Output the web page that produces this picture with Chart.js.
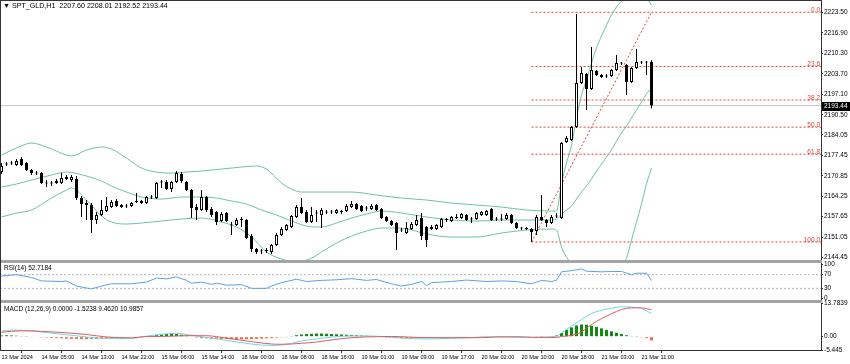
<!DOCTYPE html>
<html>
<head>
<meta charset="utf-8">
<script src="https://cdn.jsdelivr.net/npm/chart.js@4.4.1/dist/chart.umd.min.js"></script>
<style>
  body { margin: 0; background: #fff; }
  #wrap { position: relative; width: 850px; height: 364px; overflow: hidden; background: #fff; font-family: 'Liberation Sans', Arial, sans-serif; }
  canvas { position: absolute; left: 0; }
  .txt { position: absolute; font-size: 6.5px; line-height: 8px; color: #000; white-space: pre; }
  .sep { position: absolute; left: 0; width: 822px; height: 3px; background: #a4a4a4; }
  .ln { position: absolute; background: #333; }
</style>
</head>
<body>
<div id="wrap">
  <canvas id="cMain" width="850" height="264" style="top:0"></canvas>
  <canvas id="cRsi" width="850" height="45" style="top:259px"></canvas>
  <canvas id="cMacd" width="850" height="65" style="top:299px"></canvas>
  <div class="sep" style="top:260px"></div>
  <div class="sep" style="top:300px"></div>
  <div class="ln" style="left:0;top:0;width:1px;height:351px"></div>
  <div class="ln" style="left:0;top:0;width:822px;height:1px"></div>
  <div class="txt" style="left:3px;top:2px;font-size:7.1px">▼ SPT_GLD,H1  2207.60 2208.01 2192.52 2193.44</div>
  <div class="txt" style="left:4px;top:264px">RSI(14) 52.7184</div>
  <div class="txt" style="left:4px;top:305px">MACD (12,26,9) 0.0000 -1.5238 9.4620 10.9857</div>
</div>
<script>
// H1 candles, 13 Mar 21:00 -> 21 Mar 13:00
const opens = [2172.04,2174.46,2174.78,2174.30,2176.23,2174.94,2172.69,2171.88,2171.72,2168.50,
  2168.34,2168.50,2168.50,2169.79,2169.46,2169.79,2163.66,2162.05,2161.41,2156.58,
  2158.19,2159.48,2160.76,2162.70,2161.41,2161.09,2161.09,2162.38,2162.70,2162.05,
  2163.99,2163.66,2168.66,2168.82,2166.56,2168.82,2171.40,2168.82,2166.24,2160.76,
  2159.80,2163.99,2160.12,2159.15,2156.25,2158.83,2154.96,2154.96,2156.58,2156.58,
  2151.42,2147.23,2146.59,2146.59,2146.27,2148.52,2151.74,2153.35,2154.32,2157.54,
  2160.76,2159.15,2155.93,2158.67,2158.19,2159.15,2158.99,2158.83,2159.31,2159.48,
  2160.76,2161.73,2161.09,2160.28,2160.12,2161.41,2160.12,2157.54,2156.25,2155.61,
  2153.35,2152.39,2153.68,2154.96,2157.22,2154.32,2154.32,2153.68,2154.32,2156.58,
  2156.25,2157.22,2157.22,2158.19,2156.90,2156.90,2158.19,2158.19,2160.12,2156.90,
  2156.74,2156.90,2158.19,2155.61,2153.84,2154.00,2153.68,2153.03,2157.54,2156.58,
  2155.61,2157.70,2157.22,2181.71,2182.35,2186.54,2200.72,2203.62,2198.78,2204.58,
  2203.29,2202.81,2202.97,2204.91,2207.00,2206.52,2201.04,2205.55,2207.48,2207.32,
  2207.60];
const highs = [2174.94,2175.26,2175.59,2176.23,2176.87,2175.26,2173.01,2172.36,2172.04,2169.46,
  2169.14,2169.79,2171.72,2171.07,2171.07,2170.75,2164.31,2163.02,2162.05,2159.15,
  2163.02,2163.99,2163.02,2163.34,2161.73,2161.73,2162.38,2165.28,2163.02,2164.31,
  2164.63,2168.82,2169.46,2169.46,2169.14,2172.36,2172.04,2169.14,2166.56,2161.73,
  2166.24,2164.31,2160.76,2159.48,2159.15,2159.15,2155.93,2157.22,2157.54,2156.90,
  2152.07,2147.55,2147.23,2147.55,2148.84,2152.39,2154.32,2155.29,2158.19,2161.41,
  2163.66,2159.80,2160.76,2159.80,2160.44,2159.80,2159.80,2160.12,2159.80,2161.73,
  2162.70,2162.05,2161.41,2161.09,2161.73,2161.73,2160.44,2157.86,2156.58,2155.93,
  2154.00,2155.93,2155.93,2158.19,2158.83,2154.64,2154.96,2155.29,2157.22,2157.22,
  2157.86,2158.51,2158.83,2158.51,2157.54,2159.15,2159.48,2159.80,2160.44,2157.54,
  2158.51,2158.83,2158.51,2155.93,2154.32,2154.32,2154.00,2158.19,2164.63,2156.90,
  2158.19,2158.83,2181.71,2183.64,2186.86,2222.95,2205.87,2203.94,2212.32,2204.91,
  2203.62,2203.62,2205.23,2209.74,2207.48,2206.84,2205.87,2211.67,2207.81,2207.81,
  2208.01];
const lows = [2171.40,2173.97,2174.30,2173.97,2173.97,2172.36,2171.07,2171.07,2168.18,2167.21,
  2167.53,2168.18,2168.18,2169.46,2168.82,2163.02,2157.54,2156.58,2152.39,2155.29,
  2157.86,2159.15,2160.44,2160.76,2160.44,2160.44,2160.76,2162.05,2161.73,2161.73,
  2163.34,2163.34,2166.89,2166.24,2165.60,2168.50,2168.50,2165.92,2157.22,2156.58,
  2159.48,2159.15,2157.54,2154.96,2155.93,2155.93,2151.74,2154.64,2154.32,2150.45,
  2146.27,2145.62,2145.62,2145.94,2145.62,2148.20,2151.42,2153.03,2154.00,2157.22,
  2158.51,2155.61,2155.61,2155.93,2154.00,2158.51,2158.51,2158.51,2158.51,2159.15,
  2160.44,2159.80,2159.15,2159.48,2159.80,2159.48,2156.90,2155.93,2154.64,2146.91,
  2152.71,2152.07,2153.35,2154.64,2150.13,2147.88,2153.35,2153.35,2154.00,2155.93,
  2155.93,2156.90,2156.90,2156.25,2155.61,2156.58,2157.86,2157.86,2156.25,2156.25,
  2156.25,2156.58,2155.29,2153.68,2153.35,2153.35,2149.49,2151.74,2156.25,2154.32,
  2155.29,2157.22,2156.90,2181.39,2182.03,2186.22,2200.40,2192.02,2198.46,2202.97,
  2202.33,2202.33,2202.65,2204.58,2206.52,2196.85,2200.72,2205.23,2206.84,2203.29,
  2192.52];
const closes = [2173.97,2174.62,2174.94,2175.59,2174.30,2172.69,2171.72,2171.56,2168.50,2168.34,
  2168.50,2169.14,2170.11,2170.43,2170.43,2163.66,2161.73,2161.41,2156.58,2158.19,
  2159.80,2161.09,2162.38,2161.09,2160.76,2160.93,2162.05,2162.54,2162.05,2163.99,
  2163.83,2168.50,2168.82,2166.56,2168.82,2171.72,2169.14,2166.24,2160.44,2159.80,
  2163.99,2159.80,2158.19,2155.93,2158.51,2156.25,2154.80,2156.58,2156.74,2150.78,
  2147.23,2146.27,2146.43,2146.91,2148.52,2151.74,2153.68,2154.96,2157.86,2160.76,
  2158.83,2155.93,2158.19,2158.83,2159.80,2158.99,2159.15,2159.80,2159.15,2161.09,
  2161.73,2160.12,2159.48,2160.44,2161.09,2159.80,2157.22,2156.25,2154.96,2152.39,
  2153.19,2154.00,2155.29,2156.58,2151.42,2150.13,2153.68,2154.96,2156.90,2156.74,
  2157.54,2157.38,2158.51,2156.58,2156.74,2158.83,2159.15,2159.48,2156.58,2156.74,
  2156.90,2158.19,2155.61,2154.00,2154.00,2153.68,2152.71,2157.54,2156.58,2155.61,
  2157.54,2157.86,2181.39,2183.00,2186.54,2200.72,2203.94,2198.78,2204.91,2203.29,
  2202.65,2202.97,2204.91,2207.16,2207.16,2201.04,2205.55,2207.48,2207.32,2207.48,
  2193.44];

const timeTickBars = [0, 8, 16, 24, 32, 40, 48, 56, 64, 72, 80, 88, 96, 104, 112, 120, 128];
const timeLabels = ['13 Mar 2024', '14 Mar 05:00', '14 Mar 13:00', '14 Mar 22:00', '15 Mar 06:00',
  '15 Mar 14:00', '18 Mar 00:00', '18 Mar 08:00', '18 Mar 16:00', '19 Mar 01:00', '19 Mar 09:00',
  '19 Mar 17:00', '20 Mar 02:00', '20 Mar 10:00', '20 Mar 18:00', '21 Mar 03:00', '21 Mar 11:00'];
const priceTicks = [2223.50, 2216.90, 2210.30, 2203.70, 2197.10, 2190.50, 2184.05, 2177.45,
  2170.85, 2164.25, 2157.65, 2151.05, 2144.45];

// Bollinger bands (20, 2)
const upperBars = [0,3,6,9,13,14,17,20,22,25,28,31,34,37,40,44,48,51,53,56,58,60,65,70,75,80,85,90,95,100,
  105,110,111,112,113,114,115,116,117,118,119,120,121,122,123,124,125,126,127,128,129,130];
const upperVals = [2177.52,2179.77,2181.39,2180.10,2177.52,2177.20,2179.13,2180.10,2179.45,2176.55,
  2173.33,2172.04,2171.72,2172.04,2172.36,2173.01,2173.65,2173.97,2173.01,2168.50,
  2166.56,2165.60,2165.60,2165.60,2164.63,2163.66,2163.02,2162.05,2161.41,2160.76,
  2159.80,2159.48,2159.48,2168.50,2174.94,2180.74,2189.44,2196.85,2201.68,2207.16,
  2212.00,2215.86,2219.40,2222.63,2225.20,2227.14,2228.43,2229.39,2229.72,2229.39,
  2228.10,2225.85];
const midBars = [0,3,6,10,13,17,20,22,25,28,32,36,40,43,46,49,52,55,58,61,64,67,70,73,76,80,85,90,95,100,
  105,110,111,112,113,114,115,116,117,118,119,120,121,122,123,124,125,126,127,128,129,130];
const midVals = [2167.21,2168.18,2169.46,2171.07,2172.04,2170.75,2169.14,2167.53,2165.60,2163.99,
  2163.34,2163.99,2163.99,2163.66,2162.70,2161.73,2159.80,2158.19,2156.25,2154.64,
  2154.32,2155.61,2157.22,2158.51,2159.48,2158.83,2157.54,2156.58,2156.25,2156.58,
  2156.58,2156.58,2156.90,2158.51,2159.80,2161.09,2163.34,2165.60,2167.53,2169.79,
  2172.36,2174.62,2176.87,2179.13,2182.03,2184.61,2186.86,2189.44,2192.02,2194.60,
  2197.17,2199.11];
const lowerBars = [0,3,6,10,13,14,17,20,22,25,28,32,36,40,44,47,50,53,56,58,60,62,64,67,70,73,76,80,85,90,
  95,100,105,110,111,112,113,114,115,116,117,118,119,120,121,122,123,124,125,126,127,128,129,130];
const lowerVals = [2157.54,2158.83,2159.80,2163.66,2166.24,2166.89,2163.02,2157.86,2155.93,2155.29,
  2155.61,2156.25,2156.90,2157.22,2155.93,2154.32,2151.10,2146.27,2144.01,2143.37,
  2143.37,2144.33,2146.27,2149.16,2151.42,2153.03,2154.00,2154.00,2152.07,2151.10,
  2151.10,2152.39,2153.35,2153.68,2153.35,2147.88,2144.65,2142.08,2137.24,2132.41,
  2130.80,2130.16,2130.16,2131.44,2134.02,2136.60,2139.50,2142.08,2144.33,2150.13,
  2155.93,2161.73,2168.18,2173.33];

// Fibonacci retracement, drawn from bar 106 low to bar 130
const fibLevels = [0, 23.6, 38.2, 50, 61.8, 100];
const fibHigh = 2223.5;
const fibLow = 2149.5;
const fibFromBar = 106;
const fibToBar = 130;

// RSI(14)
const rsiBars = [0,3,6,8,12,13,15,18,20,22,26,29,31,33,35,37,38,40,42,43,45,48,50,53,54,56,59,61,64,67,
  70,73,75,78,80,82,84,85,86,90,93,97,100,103,106,108,110,111,112,114,116,117,120,122,124,126,127,129,130];
const rsiVals = [65.8,70,61.7,51.7,50,51.7,36.7,28.3,36.7,43.3,43.3,48.3,60,57.5,63.3,53.3,45,48.3,41.7,45,
  39.2,40.8,30,30,36.7,46.7,56.7,50,53.3,55,58.3,53.3,55.8,43.3,36.7,41.7,50,38.3,46.7,50,
  54.2,50,51.7,50,43.3,53.3,50,53.3,78.3,81.7,86.7,80,78.3,79.2,79.2,70,74.2,74.2,52.72];
const rsiTicks = [100, 70, 30, 0];

// MACD(12,26,9)
const macdHist = [0.5,0.6,0.5,0.4,0.3,0.1,-0.1,-0.2,
  -0.3,-0.4,-0.5,-0.6,-0.7,-0.8,-0.9,-0.9,-1.0,-1.0,-0.9,-0.9,-0.8,-0.7,-0.6,-0.5,-0.4,-0.3,-0.2,-0.1,-0.05,
  0.1,
  0.4,0.7,0.9,1.1,1.2,1.1,0.8,0.5,
  -0.2,-0.4,-0.6,-0.7,-0.8,-0.8,-0.9,-0.9,-1.0,-1.0,-1.1,-1.0,-1.0,-0.9,-0.8,-0.7,-0.6,-0.4,-0.3,
  -0.1,
  0.3,0.6,0.9,1.1,1.2,1.3,1.3,1.2,1.1,1.0,0.9,0.8,0.7,0.6,0.5,0.4,0.3,0.2,
  -0.2,-0.3,-0.4,-0.5,-0.6,-0.6,-0.6,-0.6,-0.5,-0.5,-0.4,-0.4,-0.3,-0.3,-0.2,-0.2,-0.1,-0.1,
  0.2,0.2,0.3,0.3,0.2,0.1,-0.1,-0.2,-0.2,-0.3,-0.3,-0.2,-0.2,-0.1,0.1,0.2,0.3,0.5,
  1.5,2.8,3.8,4.6,5.0,4.9,4.5,4.0,3.4,2.8,2.2,1.6,1.1,0.6,0.3,0.1,-0.3,-0.6,-1.5238];
const macdBars = [0,2,5,8,13,17,21,26,29,32,35,37,41,45,50,54,56,58,60,63,65,70,75,78,81,85,90,93,96,99,
  103,106,109,111,112,114,116,118,120,122,124,126,128,130];
const macdLine = [2.3,2.7,2.5,1.9,0.8,-0.1,-0.8,-0.7,0.2,1.0,1.4,0.9,-0.3,-1.5,-3.0,-3.6,-3.4,-2.7,-1.8,-0.9,
  -0.4,0.3,0.2,-0.3,-0.7,-0.9,-0.7,-0.5,-0.1,0.0,-0.3,-0.4,-0.1,0.2,1.6,4.3,7.0,9.5,10.8,11.6,
  12.2,12.1,11.5,9.462];
const signalLine = [1.8,2.2,2.4,2.2,1.6,0.9,-0.1,-0.5,0.1,0.1,0.3,0.4,0.4,-0.6,-2.0,-3.0,-3.1,-3.0,-2.7,-2.2,
  -1.6,-0.4,0.0,0.1,-0.1,-0.4,-0.4,-0.4,-0.4,-0.1,0.0,-0.2,-0.3,-0.3,0.1,0.5,2.0,5.0,7.4,9.4,
  11.1,11.8,11.8,10.9857];
const macdMax = 13.7839;
const macdMin = -5.445;

const xMin = -0.3, xMax = 163.9;
const FONT = "'Liberation Sans', Arial, sans-serif";

Chart.defaults.font.family = FONT;
Chart.defaults.font.size = 6.5;
Chart.defaults.color = '#000';

const pts = (bars, vals) => bars.map((b, i) => ({ x: b, y: vals[i] }));
const across = v => [{ x: xMin, y: v }, { x: xMax, y: v }];

function lineSet(data, color, extra) {
    return Object.assign({ type: 'line', data, borderColor: color, borderWidth: 1, pointRadius: 0, fill: false }, extra || {});
}

function rightAxis(min, max, tickVals, fmt) {
    return {
        position: 'right', min, max,
        afterBuildTicks: s => { s.ticks = tickVals.map(v => ({ value: v })); },
        afterFit: s => { s.width = 29; s.paddingTop = 0; s.paddingBottom = 0; },
        ticks: { autoSkip: false, padding: 1, callback: fmt, font: { size: 6.5 } },
        grid: { drawOnChartArea: false, drawTicks: true, tickLength: 2, color: '#333' },
        border: { display: true, color: '#333' }
    };
}

const hiddenX = { type: 'linear', min: xMin, max: xMax, offset: false, display: false };

const baseOpts = {
    responsive: false, animation: false, devicePixelRatio: 1, events: [],
    plugins: { legend: { display: false }, tooltip: { enabled: false } }
};

// ---- main price window ----
const idx = opens.map((_, i) => i);
const lastPrice = closes[closes.length - 1];
const fibPrice = lv => fibHigh - (fibHigh - fibLow) * lv / 100;
const fibColor = '#e0443c';

const mainSets = [
    { type: 'bar', data: idx.map(i => ({ x: i, y: [opens[i], closes[i]] })),
      backgroundColor: idx.map(i => closes[i] >= opens[i] ? '#ffffff' : '#000000'),
      borderColor: '#000', borderWidth: 1, borderSkipped: false, inflateAmount: 0,
      grouped: false, maxBarThickness: 3, minBarLength: 1, order: 0 },
    { type: 'bar', data: idx.map(i => ({ x: i, y: [lows[i], highs[i]] })),
      backgroundColor: '#000', borderWidth: 0, inflateAmount: 0,
      grouped: false, maxBarThickness: 1, order: 1 },
    lineSet(pts(upperBars, upperVals), '#6cc49b', { cubicInterpolationMode: 'monotone', order: 2 }),
    lineSet(pts(midBars, midVals), '#6cc49b', { cubicInterpolationMode: 'monotone', order: 2 }),
    lineSet(pts(lowerBars, lowerVals), '#6cc49b', { cubicInterpolationMode: 'monotone', order: 2 }),
    lineSet([{ x: fibFromBar, y: fibLow }, { x: fibToBar, y: fibHigh }], fibColor, { borderDash: [2, 2], order: 3 }),
    lineSet(across(lastPrice), '#c4c4c4', { order: 5 })
];
fibLevels.forEach(lv => {
    mainSets.push(lineSet([{ x: fibFromBar, y: fibPrice(lv) }, { x: xMax, y: fibPrice(lv) }], fibColor, { borderDash: [2, 2], order: 3 }));
});

const mainOverlay = {
    id: 'mainOverlay',
    afterDraw(chart) {
        const { ctx, chartArea } = chart;
        const y = chart.scales.y;
        ctx.save();
        ctx.font = '6.5px ' + FONT;
        ctx.fillStyle = fibColor;
        ctx.textAlign = 'right';
        ctx.textBaseline = 'bottom';
        fibLevels.forEach(lv => ctx.fillText(lv.toFixed(1), chartArea.right - 1, y.getPixelForValue(fibPrice(lv)) + 1));
        const py = Math.round(y.getPixelForValue(lastPrice));
        ctx.fillStyle = '#000';
        ctx.fillRect(chartArea.right + 1, py - 4, 28, 9);
        ctx.fillStyle = '#fff';
        ctx.textAlign = 'left';
        ctx.textBaseline = 'middle';
        ctx.fillText(lastPrice.toFixed(2), chartArea.right + 3, py + 0.5);
        ctx.restore();
    }
};

new Chart(document.getElementById('cMain'), {
    type: 'bar',
    data: { datasets: mainSets },
    options: Object.assign({}, baseOpts, {
        layout: { padding: { top: 0, bottom: 4, left: 0, right: 0 } },
        scales: {
            x: hiddenX,
            y: rightAxis(2143.70, 2227.46, priceTicks, v => v.toFixed(2))
        }
    }),
    plugins: [mainOverlay]
});

// ---- RSI window ----
new Chart(document.getElementById('cRsi'), {
    type: 'line',
    data: { datasets: [
        lineSet(pts(rsiBars, rsiVals), '#5aa0e6'),
        lineSet(across(70), '#b5b5b5', { borderDash: [2, 2] }),
        lineSet(across(30), '#b5b5b5', { borderDash: [2, 2] })
    ] },
    options: Object.assign({}, baseOpts, {
        layout: { padding: { top: 4, bottom: 4, left: 0, right: 0 } },
        scales: {
            x: hiddenX,
            y: rightAxis(-4, 104, rsiTicks, v => String(v))
        }
    })
});

// ---- MACD window + time axis ----
const macdTickText = { 13.7839: '13.7839', 0: '0.00', '-5.445': '-5.445' };
new Chart(document.getElementById('cMacd'), {
    type: 'bar',
    data: { datasets: [
        { type: 'bar', data: idx.map(i => ({ x: i, y: macdHist[i] })),
          backgroundColor: macdHist.map(v => v >= 0 ? '#128a12' : '#f26b45'),
          borderWidth: 0, inflateAmount: 0, grouped: false, maxBarThickness: 3, order: 2 },
        lineSet(pts(macdBars, macdLine), '#6ad8e6', { cubicInterpolationMode: 'monotone', order: 1 }),
        lineSet(pts(macdBars, signalLine), '#e05a5a', { cubicInterpolationMode: 'monotone', order: 0 })
    ] },
    options: Object.assign({}, baseOpts, {
        layout: { padding: { top: 4, bottom: 0, left: 0, right: 0 } },
        scales: {
            x: {
                type: 'linear', min: xMin, max: xMax, offset: false,
                afterBuildTicks: s => { s.ticks = timeTickBars.map(v => ({ value: v })); },
                afterFit: s => { s.height = 14; s.paddingLeft = 0; s.paddingRight = 0; },
                ticks: { autoSkip: false, maxRotation: 0, minRotation: 0, align: 'start', padding: 1,
                         font: { size: 5.6 },
                         callback: v => timeLabels[timeTickBars.indexOf(v)] },
                grid: { drawOnChartArea: false, drawTicks: true, tickLength: 3, color: '#333' },
                border: { display: true, color: '#333' }
            },
            y: rightAxis(macdMin, macdMax, [macdMax, 0, macdMin], v => macdTickText[v] || String(v))
        }
    })
});
</script>
</body>
</html>
